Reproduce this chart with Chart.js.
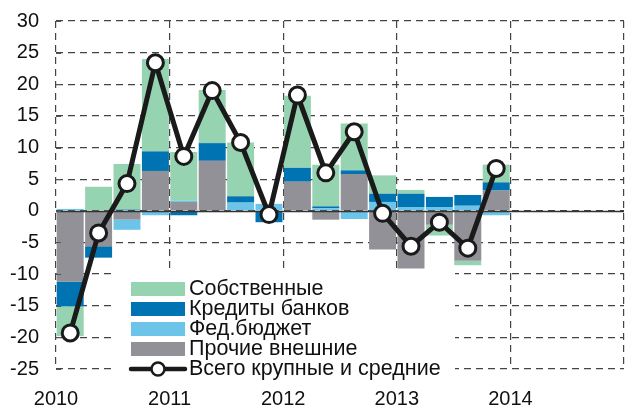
<!DOCTYPE html>
<html>
<head>
<meta charset="utf-8">
<script src="https://cdn.jsdelivr.net/npm/chart.js@4"></script>
<style>
  html, body { margin: 0; padding: 0; background: #fff; }
  #wrap { width: 625px; height: 407px; }
</style>
</head>
<body>
<div id="wrap"><canvas id="chart" width="625" height="407"></canvas></div>
<script>
// quarters 2010Q1 .. 2013Q4, % change
const quarters = ["2010Q1","2010Q2","2010Q3","2010Q4","2011Q1","2011Q2","2011Q3","2011Q4",
                  "2012Q1","2012Q2","2012Q3","2012Q4","2013Q1","2013Q2","2013Q3","2013Q4"];
const yearLabels = ["2010", "2011", "2012", "2013", "2014", ""];

const own     = [-4.7, 3.8, 7.2, 14.6, 7.7, 8.4, 8.5, 0, 11.4, 6.6, 7.4, 2.9, 0.6, -1.7, -0.7, 2.8];
const credits = [-3.9, -1.8, 0.2, 3.1, -0.7, 2.8, 1.0, -1.8, 2.2, 0.3, 0.6, 1.3, 2.1, 1.6, 1.7, 1.3];
const fedBudget = [0.3, 0, -1.6, -0.7, 0.2, -0.2, 1.3, 1.1, 0, 0.4, -1.3, 1.4, 0.6, 0.6, 0.8, -0.7];
const otherExt  = [-11.2, -5.6, -1.4, 6.3, 1.4, 7.9, 0, 0, 4.6, -1.4, 5.8, -6.1, -9.1, -2.2, -7.9, 3.2];
const total   = [-19.3, -3.5, 4.3, 23.4, 8.6, 19.0, 10.8, -0.6, 18.3, 6.0, 12.5, -0.4, -5.6, -1.8, -5.9, 6.7];

const FONT = "'Liberation Sans', Arial, sans-serif";

// x is a linear quarter index, bar centred in the middle of its quarter
const pts = (arr) => arr.map((v, i) => ({ x: i + 0.5, y: v }));

const barDs = (label, data, color) => ({
  type: "bar",
  label: label,
  data: pts(data),
  backgroundColor: color,
  borderWidth: 0,
  barPercentage: 0.95,
  categoryPercentage: 1,
  order: 1,
});

const zeroLine = {
  id: "zeroLine",
  beforeDatasetDraw(chart, args) {
    if (args.index !== 4) return;
    const { ctx, chartArea, scales } = chart;
    const y = Math.round(scales.y.getPixelForValue(0)) + 0.5;
    ctx.save();
    ctx.strokeStyle = "#333";
    ctx.lineWidth = 1.5;
    ctx.beginPath();
    ctx.moveTo(chartArea.left, y);
    ctx.lineTo(chartArea.right, y);
    ctx.stroke();
    // short inward ticks on the left axis
    ctx.lineWidth = 1;
    ctx.strokeStyle = "#555";
    scales.y.ticks.forEach((t) => {
      const ty = Math.round(scales.y.getPixelForValue(t.value)) + 0.5;
      ctx.beginPath();
      ctx.moveTo(chartArea.left, ty);
      ctx.lineTo(chartArea.left + 5, ty);
      ctx.stroke();
    });
    ctx.restore();
  },
};

// legend sits inside the plot, bottom left, on a white box
const insideLegend = {
  id: "insideLegend",
  afterDatasetsDraw(chart) {
    const ctx = chart.ctx;
    const ds = chart.data.datasets;
    ctx.save();
    ctx.fillStyle = "#fff";
    ctx.fillRect(111, 272, 344, 110);
    const order = [3, 2, 1, 0, 4];
    let y = 289;
    ctx.font = "21.5px " + FONT;
    ctx.textBaseline = "middle";
    order.forEach((i) => {
      const d = ds[i];
      if (d.type === "bar") {
        ctx.fillStyle = d.backgroundColor;
        ctx.fillRect(131, y - 7, 54, 14);
      } else {
        ctx.strokeStyle = d.borderColor;
        ctx.lineWidth = 4.5;
        ctx.lineCap = "round";
        ctx.beginPath();
        ctx.moveTo(131, y);
        ctx.lineTo(185, y);
        ctx.stroke();
        ctx.beginPath();
        ctx.arc(158, y, 6.5, 0, Math.PI * 2);
        ctx.fillStyle = "#fff";
        ctx.fill();
        ctx.lineWidth = 2.5;
        ctx.stroke();
      }
      ctx.fillStyle = "#111";
      ctx.fillText(d.label, 189, y);
      y += 20;
    });
    ctx.restore();
  },
};

new Chart(document.getElementById("chart"), {
  type: "bar",
  data: {
    datasets: [
      barDs("Прочие внешние", otherExt, "#929197"),
      barDs("Фед.бюджет", fedBudget, "#6cc5e8"),
      barDs("Кредиты банков", credits, "#0073b2"),
      barDs("Собственные", own, "#96d3b0"),
      {
        type: "line",
        label: "Всего крупные и средние",
        data: pts(total),
        stack: "total",
        order: 0,
        borderColor: "#1a1a1a",
        borderWidth: 5,
        tension: 0,
        pointRadius: 8,
        pointBorderWidth: 3,
        pointBackgroundColor: "#fff",
        pointBorderColor: "#1a1a1a",
      },
    ],
  },
  options: {
    responsive: false,
    devicePixelRatio: 1,
    animation: false,
    layout: { autoPadding: false, padding: { top: 21, right: 1, left: 0, bottom: 0 } },
    plugins: {
      legend: { display: false },
      tooltip: { enabled: false },
    },
    scales: {
      x: {
        type: "linear",
        min: 0,
        max: 20,
        offset: false,
        stacked: true,
        afterFit: (s) => {
          s.height = 38;
          s.paddingLeft = 0;
          s.paddingRight = 0;
        },
        afterBuildTicks: (s) => {
          s.ticks = yearLabels.map((t, i) => ({ value: i * 4 }));
        },
        ticks: {
          autoSkip: false,
          maxRotation: 0,
          padding: 18,
          color: "#111",
          font: { family: FONT, size: 20 },
          callback: (v) => yearLabels[v / 4],
        },
        grid: { color: "#444", lineWidth: 1.2, drawTicks: false, offset: false },
        border: { display: false, dash: [7, 5] },
      },
      y: {
        stacked: true,
        min: -25,
        max: 30,
        afterFit: (s) => {
          s.width = 56;
          s.paddingTop = 0;
          s.paddingBottom = 0;
        },
        ticks: {
          stepSize: 5,
          padding: 17,
          color: "#111",
          font: { family: FONT, size: 20 },
        },
        grid: { color: "#444", lineWidth: 1.2, drawTicks: false },
        border: { display: false, dash: [7, 5] },
      },
    },
  },
  plugins: [zeroLine, insideLegend],
});
</script>
</body>
</html>
